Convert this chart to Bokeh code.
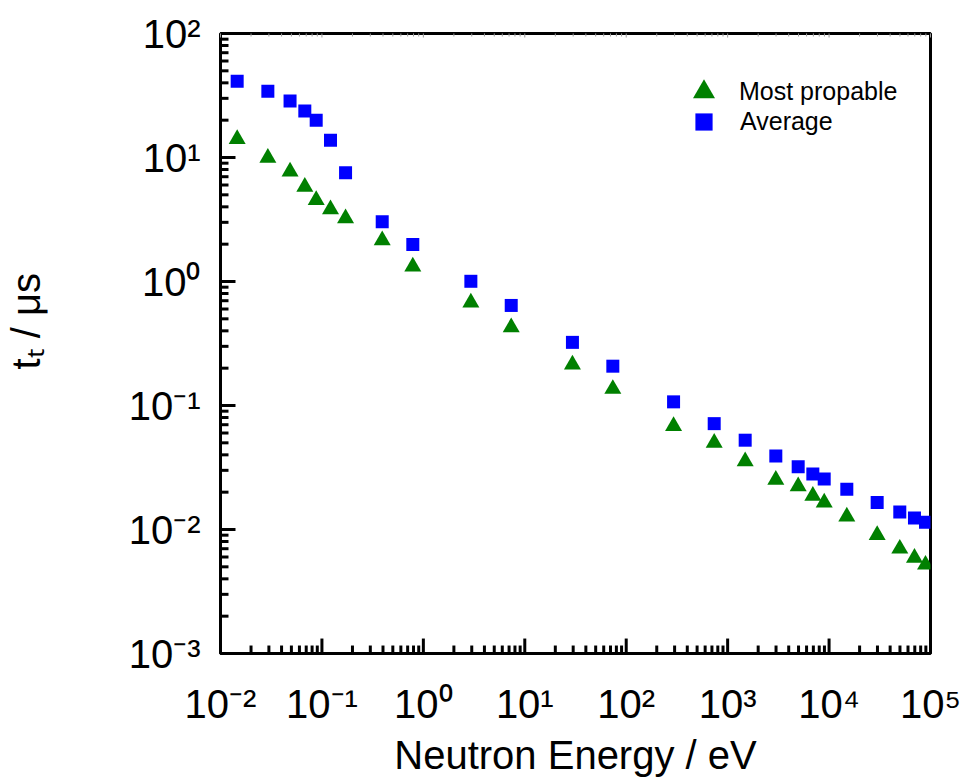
import math

from bokeh.plotting import figure
from bokeh.models import (ColumnDataSource, FixedTicker, Legend, LegendItem,
                          CustomJSTickFormatter)
from bokeh.embed import file_html
from bokeh.resources import INLINE

# Neutron energy (eV) and the corresponding flight times (microseconds)
energy_ev = [0.0146, 0.0293, 0.0485, 0.0678, 0.0878, 0.1215, 0.171, 0.393, 0.787,
             2.94, 7.35, 29.5, 73.8, 293, 737, 1489, 2985, 4960, 6918, 8954,
             14960, 29800, 49800, 69500, 89300]
t_most_probable_us = [14.1, 9.93, 7.71, 5.81, 4.54, 3.82, 3.23, 2.15, 1.32,
                      0.677, 0.427, 0.214, 0.136, 0.0683, 0.0501, 0.0355, 0.0252,
                      0.0223, 0.0187, 0.0165, 0.0127, 0.0090, 0.0070, 0.0059, 0.0052]
t_average_us = [41.2, 34.2, 28.5, 23.7, 20.0, 13.8, 7.52, 3.03, 1.99,
                1.004, 0.641, 0.323, 0.2075, 0.107, 0.0714, 0.0525, 0.0391,
                0.0321, 0.028, 0.0255, 0.0211, 0.0165, 0.01387, 0.0124, 0.01146]

series_labels = ["Most propable", "Average"]
x_title = "Neutron Energy / eV"
y_title = "t\u209c / \u03bcs"
x_decades = [-2, -1, 0, 1, 2, 3, 4, 5]
y_decades = [-3, -2, -1, 0, 1, 2]

FONT = "Liberation Sans"
GREEN = "#008000"
BLUE = "#0000ff"

W, H = 963, 779
BORDER_L, BORDER_R, BORDER_T, BORDER_B = 220, 33, 33, 123

x_lo, x_hi = 10.0 ** x_decades[0], 10.0 ** x_decades[-1]
y_lo, y_hi = 10.0 ** y_decades[0], 10.0 ** y_decades[-1]

source = ColumnDataSource(data=dict(energy=energy_ev,
                                    most=t_most_probable_us,
                                    avg=t_average_us))

p = figure(width=W, height=H, x_axis_type="log", y_axis_type="log",
           x_range=(x_lo, x_hi), y_range=(y_lo, y_hi),
           output_backend="svg", toolbar_location=None,
           min_border_left=BORDER_L, min_border_right=BORDER_R,
           min_border_top=BORDER_T, min_border_bottom=BORDER_B)
p.background_fill_color = "white"
p.border_fill_color = "white"
p.grid.visible = False
p.outline_line_color = "black"
p.outline_line_width = 3


def major_positions(decades):
    return [10.0 ** e for e in decades]


def minor_positions(decades):
    return [k * 10.0 ** e for e in decades[:-1] for k in range(2, 10)]


# "10" followed by the exponent written with superscript characters
power_labels = CustomJSTickFormatter(code="""
    const sup = {"-": "\\u207b", "0": "\\u2070", "1": "\\u00b9", "2": "\\u00b2",
                 "3": "\\u00b3", "4": "\\u2074", "5": "\\u2075", "6": "\\u2076",
                 "7": "\\u2077", "8": "\\u2078", "9": "\\u2079"};
    const e = Math.round(Math.log10(tick));
    return "10" + String(e).split("").map(c => sup[c]).join("");
""")


def label_axis(ax, decades, standoff, title, title_standoff):
    """Axis carrying the power-of-ten labels and the title."""
    ax.ticker = FixedTicker(ticks=major_positions(decades), minor_ticks=[])
    ax.formatter = power_labels
    ax.axis_line_color = None
    ax.major_tick_line_color = None
    ax.minor_tick_line_color = None
    ax.major_tick_in = 0
    ax.major_tick_out = 0
    ax.minor_tick_in = 0
    ax.minor_tick_out = 0
    ax.major_label_standoff = standoff
    ax.major_label_text_font = FONT
    ax.major_label_text_font_size = "40px"
    ax.major_label_text_color = "black"
    ax.axis_label = title
    ax.axis_label_standoff = title_standoff
    ax.axis_label_text_font = FONT
    ax.axis_label_text_font_size = "40px"
    ax.axis_label_text_font_style = "normal"
    ax.axis_label_text_color = "black"


label_axis(p.xaxis[0], x_decades, 28, x_title, 4)
label_axis(p.yaxis[0], y_decades, 20, "\u00a0\u00a0\u00a0\u00a0" + y_title, 78)

# pixels per decade inside the frame, used to keep tick dashes one-sided
px_per_decade_x = (W - BORDER_L - BORDER_R) / (len(x_decades) - 1)
px_per_decade_y = (H - BORDER_T - BORDER_B) / (len(y_decades) - 1)


# Inward tick marks: dashes of the tick length, centred half a length
# inside the frame edge so that they start on the edge and point inward.
def edge_ticks(positions, edge, length, width, color):
    n = len(positions)
    if edge == "bottom":
        y = y_lo * 10 ** (length / 2 / px_per_decade_y)
        data, angle = dict(x=positions, y=[y] * n), math.pi / 2
    elif edge == "top":
        y = y_hi / 10 ** (length / 2 / px_per_decade_y)
        data, angle = dict(x=positions, y=[y] * n), math.pi / 2
    else:
        x = x_lo * 10 ** (length / 2 / px_per_decade_x)
        data, angle = dict(x=[x] * n, y=positions), 0.0
    p.scatter(x="x", y="y", source=ColumnDataSource(data=data), marker="dash",
              size=length, angle=angle, line_color=color, line_width=width,
              level="overlay")


edge_ticks(major_positions(x_decades), "bottom", 15, 3, "black")
edge_ticks(minor_positions(x_decades), "bottom", 8, 3, "black")
edge_ticks(major_positions(y_decades), "left", 15, 3, "black")
edge_ticks(minor_positions(y_decades), "left", 8, 3, "black")
edge_ticks(major_positions(x_decades), "top", 4, 1, "#999999")
edge_ticks(minor_positions(x_decades), "top", 3, 1, "#999999")

# data markers
sq = p.scatter(x="energy", y="avg", source=source, marker="square", size=13,
               fill_color=BLUE, line_color=None)
tri = p.scatter(x="energy", y="most", source=source, marker="triangle", size=17,
                fill_color=GREEN, line_color=None)

# legend: one block per series so each keeps its own symbol size
common = dict(padding=0, margin=0, spacing=0, border_line_color=None,
              background_fill_alpha=0, label_text_font=FONT,
              label_text_font_size="25px", label_text_color="black")
leg_tri = Legend(items=[LegendItem(label=series_labels[0], renderers=[tri])],
                 location=(456, 534), glyph_width=55, glyph_height=55,
                 label_standoff=8, **common)
leg_sq = Legend(items=[LegendItem(label=series_labels[1], renderers=[sq])],
                location=(462, 510), glyph_width=43, glyph_height=43,
                label_standoff=15, **common)
p.add_layout(leg_tri)
p.add_layout(leg_sq)

open("out.html", "w").write(file_html(p, INLINE))
